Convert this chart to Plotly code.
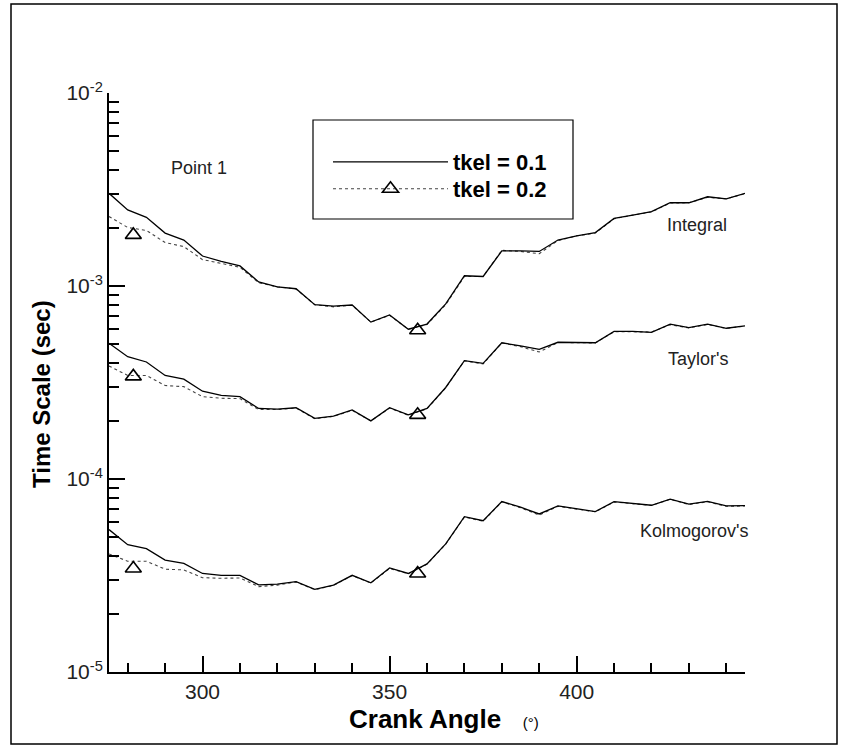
import plotly.graph_objects as go

# ---------------- data ----------------
crank_angle = [275, 280, 285, 290, 295, 300, 305, 310, 315, 320, 325, 330, 335, 340, 345,
               350, 355, 360, 365, 370, 375, 380, 385, 390, 395, 400, 405, 410, 415, 420,
               425, 430, 435, 440, 445]

integral_01 = [3.02e-3, 2.48e-3, 2.27e-3, 1.88e-3, 1.73e-3, 1.43e-3, 1.34e-3, 1.27e-3, 1.05e-3,
               0.99e-3, 0.968e-3, 0.80e-3, 0.787e-3, 0.797e-3, 0.65e-3, 0.708e-3, 0.597e-3,
               0.635e-3, 0.807e-3, 1.13e-3, 1.12e-3, 1.52e-3, 1.52e-3, 1.51e-3, 1.73e-3,
               1.82e-3, 1.89e-3, 2.24e-3, 2.33e-3, 2.43e-3, 2.70e-3, 2.70e-3, 2.90e-3,
               2.83e-3, 3.02e-3]
integral_02 = [2.29e-3, 2.01e-3, 1.94e-3, 1.68e-3, 1.60e-3, 1.37e-3, 1.31e-3, 1.25e-3, 1.04e-3,
               0.99e-3, 0.965e-3, 0.80e-3, 0.78e-3, 0.795e-3, 0.65e-3, 0.705e-3, 0.597e-3,
               0.632e-3, 0.80e-3, 1.12e-3, 1.12e-3, 1.53e-3, 1.51e-3, 1.47e-3, 1.72e-3,
               1.82e-3, 1.88e-3, 2.23e-3, 2.33e-3, 2.42e-3, 2.69e-3, 2.70e-3, 2.88e-3,
               2.83e-3, 3.01e-3]

taylor_01 = [0.505e-3, 0.43e-3, 0.404e-3, 0.344e-3, 0.329e-3, 0.285e-3, 0.271e-3, 0.267e-3,
             0.232e-3, 0.230e-3, 0.234e-3, 0.206e-3, 0.212e-3, 0.228e-3, 0.200e-3, 0.234e-3,
             0.215e-3, 0.232e-3, 0.298e-3, 0.41e-3, 0.397e-3, 0.508e-3, 0.489e-3, 0.47e-3,
             0.511e-3, 0.508e-3, 0.508e-3, 0.582e-3, 0.582e-3, 0.575e-3, 0.634e-3, 0.609e-3,
             0.635e-3, 0.604e-3, 0.622e-3]
taylor_02 = [0.385e-3, 0.344e-3, 0.344e-3, 0.305e-3, 0.301e-3, 0.267e-3, 0.262e-3, 0.261e-3,
             0.229e-3, 0.229e-3, 0.233e-3, 0.205e-3, 0.211e-3, 0.227e-3, 0.200e-3, 0.233e-3,
             0.214e-3, 0.231e-3, 0.297e-3, 0.41e-3, 0.395e-3, 0.507e-3, 0.485e-3, 0.455e-3,
             0.51e-3, 0.507e-3, 0.507e-3, 0.58e-3, 0.58e-3, 0.578e-3, 0.63e-3, 0.607e-3,
             0.632e-3, 0.603e-3, 0.62e-3]

kolmo_01 = [5.47e-5, 4.57e-5, 4.36e-5, 3.80e-5, 3.65e-5, 3.24e-5, 3.17e-5, 3.17e-5, 2.83e-5,
            2.85e-5, 2.94e-5, 2.68e-5, 2.82e-5, 3.17e-5, 2.90e-5, 3.46e-5, 3.24e-5, 3.63e-5,
            4.61e-5, 6.38e-5, 6.08e-5, 7.64e-5, 7.14e-5, 6.59e-5, 7.25e-5, 7.02e-5, 6.78e-5,
            7.64e-5, 7.48e-5, 7.31e-5, 7.87e-5, 7.41e-5, 7.66e-5, 7.25e-5, 7.27e-5]
kolmo_02 = [4.09e-5, 3.75e-5, 3.75e-5, 3.41e-5, 3.38e-5, 3.08e-5, 3.06e-5, 3.07e-5, 2.77e-5,
            2.82e-5, 2.93e-5, 2.67e-5, 2.81e-5, 3.16e-5, 2.89e-5, 3.44e-5, 3.23e-5, 3.62e-5,
            4.60e-5, 6.35e-5, 6.05e-5, 7.62e-5, 7.10e-5, 6.50e-5, 7.22e-5, 7.00e-5, 6.76e-5,
            7.60e-5, 7.46e-5, 7.30e-5, 7.85e-5, 7.38e-5, 7.62e-5, 7.22e-5, 7.25e-5]

# triangle symbols placed along the tkel = 0.2 curves
marker_angle = [281.5, 357.5]
integral_marker = [1.84e-3, 0.59e-3]
taylor_marker = [0.34e-3, 0.215e-3]
kolmo_marker = [3.44e-5, 3.24e-5]

y_major = [1e-5, 1e-4, 1e-3, 1e-2]
y_major_text = ["10<sup>-5</sup>", "10<sup>-4</sup>", "10<sup>-3</sup>", "10<sup>-2</sup>"]
x_major = [300, 350, 400]
x_minor = [280, 290, 310, 320, 330, 340, 360, 370, 380, 390, 410, 420, 430, 440]
y_minor = [m * d for d in [1e-5, 1e-4, 1e-3] for m in [2, 3, 4, 5, 6, 7, 8, 9]]

curve_labels = ["Integral", "Taylor's", "Kolmogorov's"]

# ---------------- figure ----------------
FONT = "Liberation Sans, Arial, sans-serif"
fig = go.Figure()

solid = dict(color="black", width=1.3)
dotted = dict(color="#444", width=1.1, dash="dot")
tri = dict(symbol="triangle-up-open", size=14, color="black", line=dict(width=1.6, color="black"))

for i, (y1, y2, ym) in enumerate([(integral_01, integral_02, integral_marker),
                                  (taylor_01, taylor_02, taylor_marker),
                                  (kolmo_01, kolmo_02, kolmo_marker)]):
    fig.add_trace(go.Scatter(x=crank_angle, y=y2, mode="lines", line=dotted,
                             showlegend=False, hoverinfo="skip"))
    fig.add_trace(go.Scatter(x=crank_angle, y=y1, mode="lines", line=solid,
                             name="tkel = 0.1", legend="legend", showlegend=(i == 0)))
    fig.add_trace(go.Scatter(x=marker_angle, y=ym, mode="markers", marker=tri,
                             showlegend=False, hoverinfo="skip"))

# legend sample for the tkel = 0.2 series (line + symbol)
fig.add_trace(go.Scatter(x=[None], y=[None], mode="lines+markers", line=dotted, marker=tri,
                         name="tkel = 0.2", legend="legend2"))

L, R, T, B = 109, 102, 93, 78
W, H = 847, 750
pw, ph = W - L - R, H - T - B


def px(xp):
    return (xp - L) / pw


def py(yp):
    return (H - B - yp) / ph


leg_common = dict(xanchor="left", yanchor="middle", bgcolor="rgba(0,0,0,0)",
                  borderwidth=0, itemwidth=115,
                  font=dict(family=FONT, size=22, color="black", weight="bold"))

fig.update_layout(
    width=W, height=H,
    margin=dict(l=L, r=R, t=T, b=B),
    paper_bgcolor="white", plot_bgcolor="white",
    font=dict(family=FONT, color="#222"),
    showlegend=True,
    legend=dict(x=px(328), y=py(162), **leg_common),
    legend2=dict(x=px(328), y=py(189), **leg_common),
    xaxis=dict(range=[275, 445], showgrid=False, zeroline=False,
               showline=True, linecolor="black", linewidth=2,
               ticks="inside", ticklen=16, tickwidth=1.5, tickcolor="black",
               tickvals=x_major, ticktext=[str(v) for v in x_major],
               tickfont=dict(size=21, color="#222"),
               minor=dict(tickvals=x_minor, ticks="inside", ticklen=9, tickwidth=1.5,
                          tickcolor="black", showgrid=False)),
    yaxis=dict(type="log", range=[-5, -2], showgrid=False, zeroline=False,
               showline=True, linecolor="black", linewidth=2,
               ticks="inside", ticklen=16, tickwidth=1.5, tickcolor="black",
               tickvals=y_major, ticktext=y_major_text,
               tickfont=dict(size=21, color="#222"),
               minor=dict(tickvals=y_minor, ticks="inside", ticklen=10, tickwidth=1.5,
                          tickcolor="black", showgrid=False)),
)

# axis titles
fig.add_annotation(x=px(42), y=py(394), xref="paper", yref="paper",
                   xanchor="center", yanchor="middle",
                   text="<b>Time Scale (sec)</b>", textangle=-90, showarrow=False,
                   font=dict(family=FONT, size=24, color="black"))
fig.add_annotation(x=px(444), y=py(719), xref="paper", yref="paper",
                   xanchor="center", yanchor="middle",
                   text="<b>Crank Angle</b>   <span style='font-size:15px'>(°)</span>",
                   showarrow=False, font=dict(family=FONT, size=26, color="black"))

# text labels
fig.add_annotation(x=px(199), y=py(168), xref="paper", yref="paper", text="Point 1",
                   xanchor="center", yanchor="middle",
                   showarrow=False, font=dict(family=FONT, size=18, color="#222"))
for lab, (xp, yp) in zip(curve_labels, [(697, 225), (698, 359), (694, 531)]):
    fig.add_annotation(x=px(xp), y=py(yp), xref="paper", yref="paper", text=lab,
                       xanchor="center", yanchor="middle",
                       showarrow=False, font=dict(family=FONT, size=18, color="#222"))

# legend frame and outer frame
fig.add_shape(type="rect", xref="paper", yref="paper",
              x0=px(313), x1=px(573), y0=py(219), y1=py(120),
              line=dict(color="black", width=1.2))
fig.add_shape(type="rect", xref="paper", yref="paper",
              x0=px(11), x1=px(837), y0=py(744), y1=py(4),
              line=dict(color="black", width=1.5))

fig.write_html("out.html")
